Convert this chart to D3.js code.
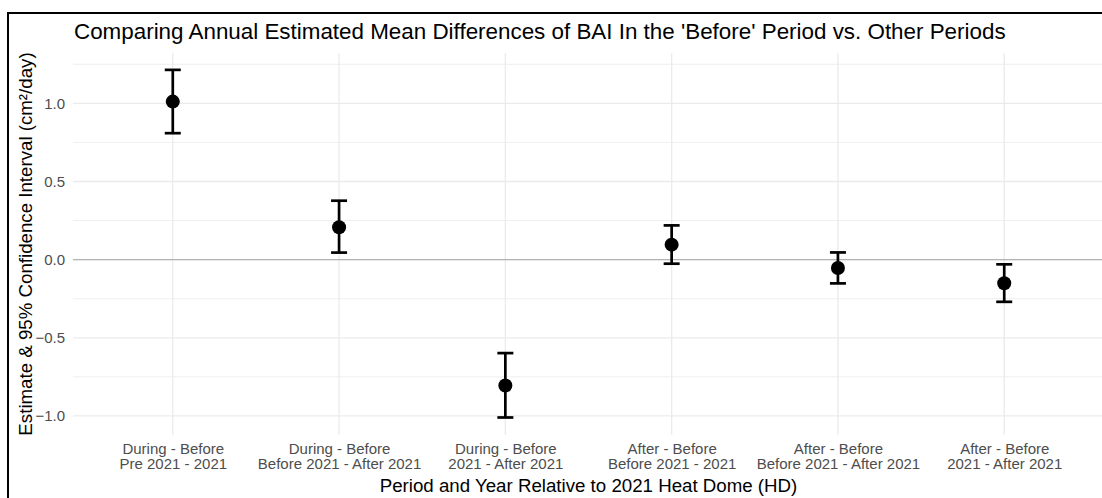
<!DOCTYPE html>
<html>
<head>
<meta charset="utf-8">
<script src="https://cdn.jsdelivr.net/npm/d3@7"></script>
<style>
  html, body { margin: 0; padding: 0; background: #fff; }
  svg { display: block; }
  text { font-family: "Liberation Sans", Arial, Helvetica, sans-serif; }
</style>
</head>
<body>
<svg id="chart" width="1102" height="498"></svg>
<script>
// Comparison labels (two lines each) along the x axis
const comparisons = ["During - Before", "During - Before", "During - Before", "After - Before", "After - Before", "After - Before"];
const yearRanges = ["Pre 2021 - 2021", "Before 2021 - After 2021", "2021 - After 2021", "Before 2021 - 2021", "Before 2021 - After 2021", "2021 - After 2021"];

// Estimated mean differences and 95% confidence limits (cm²/day)
const estimates = [1.011, 0.207, -0.805, 0.096, -0.054, -0.151];
const lowerCI = [0.809, 0.045, -1.010, -0.026, -0.152, -0.270];
const upperCI = [1.214, 0.377, -0.598, 0.219, 0.046, -0.030];

const yTicks = [-1.0, -0.5, 0.0, 0.5, 1.0];
const yMinor = [-0.75, -0.25, 0.25, 0.75, 1.25];

const rows = estimates.map((e, i) => ({
  key: i,
  comp: comparisons[i],
  years: yearRanges[i],
  est: e,
  lo: lowerCI[i],
  hi: upperCI[i]
}));

const svg = d3.select("#chart");
const W = 1102, H = 498;

// Outer frame
svg.append("rect")
  .attr("x", 8).attr("y", 13)
  .attr("width", W + 20).attr("height", H + 20)
  .attr("fill", "#fff")
  .attr("stroke", "#000").attr("stroke-width", 2);

const panel = { left: 73, right: 1104, top: 53, bottom: 435 };

const x = d3.scalePoint()
  .domain(rows.map(d => d.key))
  .range([panel.left, panel.right])
  .padding(0.6);

const y = d3.scaleLinear()
  .domain([-1.122, 1.322])
  .range([panel.bottom, panel.top]);

const grid = svg.append("g");

// minor horizontal grid
grid.selectAll("line.minor").data(yMinor).join("line")
  .attr("class", "minor")
  .attr("x1", panel.left).attr("x2", panel.right)
  .attr("y1", d => y(d)).attr("y2", d => y(d))
  .attr("stroke", "#ebebeb").attr("stroke-width", 0.8);

// major horizontal grid
grid.selectAll("line.major").data(yTicks).join("line")
  .attr("class", "major")
  .attr("x1", panel.left).attr("x2", panel.right)
  .attr("y1", d => y(d)).attr("y2", d => y(d))
  .attr("stroke", "#ebebeb").attr("stroke-width", 1.3);

// vertical grid at each category
grid.selectAll("line.vgrid").data(rows).join("line")
  .attr("class", "vgrid")
  .attr("x1", d => x(d.key)).attr("x2", d => x(d.key))
  .attr("y1", panel.top).attr("y2", panel.bottom)
  .attr("stroke", "#ebebeb").attr("stroke-width", 1.3);

// reference line at zero
svg.append("line")
  .attr("x1", panel.left).attr("x2", panel.right)
  .attr("y1", y(0)).attr("y2", y(0))
  .attr("stroke", "#b3b3b3").attr("stroke-width", 1.3);

// y axis tick labels
const yAxis = d3.axisLeft(y).tickValues(yTicks).tickFormat(d3.format(".1f")).tickSize(0).tickPadding(8);
const yg = svg.append("g").attr("transform", `translate(${panel.left},0)`).call(yAxis);
yg.select(".domain").remove();
yg.selectAll("text")
  .attr("fill", "#4d4d4d")
  .style("font-size", "15px")
  .style("font-family", "'Liberation Sans', Arial, sans-serif");

// x axis tick labels (two lines)
const xAxis = d3.axisBottom(x).tickSize(0).tickFormat(() => "");
const xg = svg.append("g").attr("transform", `translate(0,${panel.bottom})`).call(xAxis);
xg.select(".domain").remove();
xg.selectAll(".tick").each(function(k) {
  const t = d3.select(this).select("text")
    .attr("fill", "#4d4d4d")
    .attr("y", 0)
    .attr("dy", null)
    .style("font-size", "15px")
    .style("font-family", "'Liberation Sans', Arial, sans-serif");
  t.append("tspan").attr("x", 0).attr("y", 19).text(rows[k].comp);
  t.append("tspan").attr("x", 0).attr("y", 34).text(rows[k].years);
});

// error bars
const eb = svg.append("g");
const capHalf = 8;
eb.selectAll("line.stem").data(rows).join("line")
  .attr("x1", d => x(d.key)).attr("x2", d => x(d.key))
  .attr("y1", d => y(d.lo)).attr("y2", d => y(d.hi))
  .attr("stroke", "#000").attr("stroke-width", 2.7);
eb.selectAll("line.capHi").data(rows).join("line")
  .attr("x1", d => x(d.key) - capHalf).attr("x2", d => x(d.key) + capHalf)
  .attr("y1", d => y(d.hi)).attr("y2", d => y(d.hi))
  .attr("stroke", "#000").attr("stroke-width", 2.7);
eb.selectAll("line.capLo").data(rows).join("line")
  .attr("x1", d => x(d.key) - capHalf).attr("x2", d => x(d.key) + capHalf)
  .attr("y1", d => y(d.lo)).attr("y2", d => y(d.lo))
  .attr("stroke", "#000").attr("stroke-width", 2.7);

// point estimates
svg.append("g").selectAll("circle").data(rows).join("circle")
  .attr("cx", d => x(d.key))
  .attr("cy", d => y(d.est))
  .attr("r", 7)
  .attr("fill", "#000");

// title
svg.append("text")
  .attr("x", 74).attr("y", 39)
  .attr("fill", "#000")
  .style("font-size", "22.4px")
  .text("Comparing Annual Estimated Mean Differences of BAI In the 'Before' Period vs. Other Periods");

// axis titles
svg.append("text")
  .attr("x", (panel.left + panel.right) / 2)
  .attr("y", 492)
  .attr("text-anchor", "middle")
  .attr("fill", "#000")
  .style("font-size", "18.7px")
  .text("Period and Year Relative to 2021 Heat Dome (HD)");

svg.append("text")
  .attr("transform", `translate(32,${(panel.top + panel.bottom) / 2}) rotate(-90)`)
  .attr("text-anchor", "middle")
  .attr("fill", "#000")
  .style("font-size", "18.7px")
  .text("Estimate & 95% Confidence Interval (cm²/day)");
</script>
</body>
</html>
